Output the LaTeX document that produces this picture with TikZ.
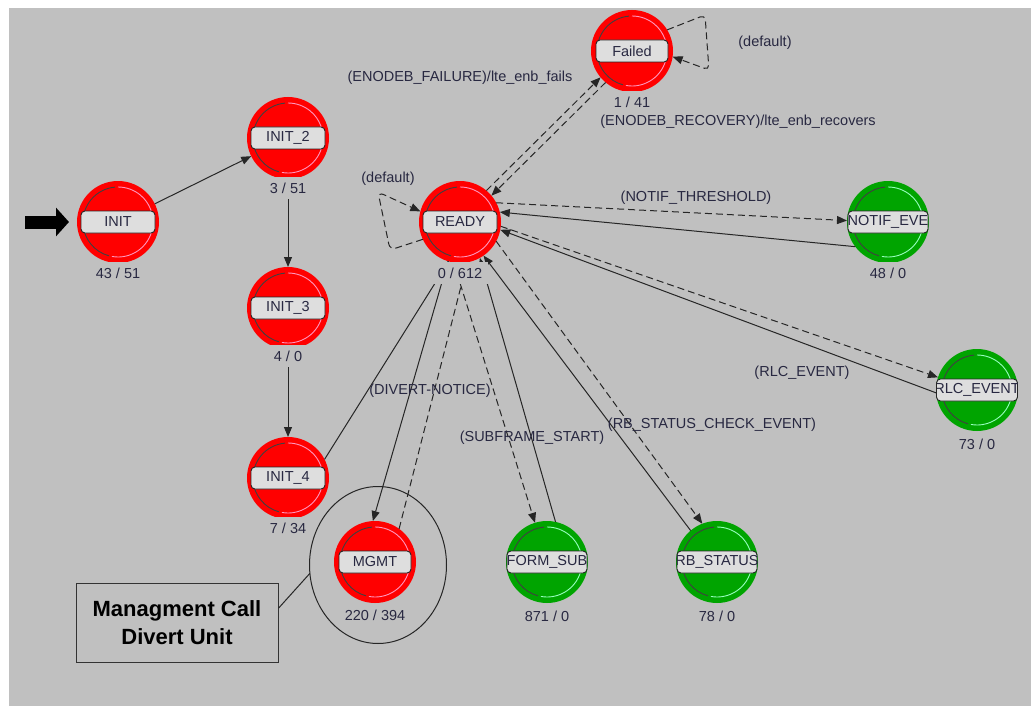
\documentclass[tikz,border=0pt]{standalone}
\usepackage{fontspec}
\setmainfont{Liberation Sans}
\usetikzlibrary{arrows.meta,shapes.geometric}

\definecolor{canvas}{RGB}{192,192,192}
\definecolor{stred}{RGB}{255,0,0}
\definecolor{stgreen}{RGB}{0,164,0}
\definecolor{redlight}{RGB}{255,150,190}
\definecolor{greenlight}{RGB}{150,255,190}
\definecolor{boxgray}{RGB}{222,222,222}
\definecolor{ink}{RGB}{40,40,65}

% thin rim inside a state circle: dark on the left, light on the right
\newcommand\rimlines[2]{%
  \draw[black!75, line width=0.9pt] ([shift={(95:35pt)}]#1.center)
    arc[start angle=95, end angle=255, radius=35pt];
  \draw[#2, line width=0.9pt] ([shift={(-100:35pt)}]#1.center)
    arc[start angle=-100, end angle=90, radius=35pt];
}
% rounded name box of a state, its text clipped to the box
\newcommand\statename[4]{%
  \node[namebox, minimum width=#3] (#1) at (#2) {};
  \begin{scope}
    \clip[rounded corners=4pt] (#1.south west) rectangle (#1.north east);
    \node[inner sep=0pt] at (#1.center) {#4};
  \end{scope}
}

\begin{document}
\begin{tikzpicture}[x=1pt, y=1pt,
  every node/.style={font=\fontsize{14.5}{16}\selectfont, text=ink},
  stnode/.style={circle, minimum size=82pt, inner sep=0pt, outer sep=0pt, fill=#1},
  namebox/.style={draw=black!85, line width=0.9pt, fill=boxgray, rounded corners=4pt,
    minimum height=22pt, inner sep=0pt, outer sep=0pt},
  cntlabel/.style={fill=canvas, inner xsep=6pt, inner ysep=0pt, minimum height=22pt},
  plainline/.style={draw=black!85, line width=1pt},
  trans/.style={plainline, -{Triangle[length=10pt, width=8pt]}},
  transd/.style={trans, dash pattern=on 7pt off 4pt},
  plaind/.style={plainline, dash pattern=on 7pt off 4pt},
]
\useasboundingbox (0,0) rectangle (1031,-706);
\fill[white] (0,0) rectangle (1031,-706);
\fill[canvas] (9,-8) rectangle (1031,-706);

% states
\node[stnode=stred]   (init)   at (118,-222) {};
\node[stnode=stred]   (init2)  at (288,-138) {};
\node[stnode=stred]   (init3)  at (288,-308) {};
\node[stnode=stred]   (init4)  at (288,-478) {};
\node[stnode=stred]   (ready)  at (460,-222) {};
\node[stnode=stred]   (failed) at (632,-51) {};
\node[stnode=stred]   (mgmt)   at (375,-562) {};
\node[stnode=stgreen] (notif)  at (888,-222) {};
\node[stnode=stgreen] (rlc)    at (977,-390) {};
\node[stnode=stgreen] (form)   at (547,-562) {};
\node[stnode=stgreen] (rb)     at (717,-562) {};

\rimlines{init}{redlight}
\rimlines{init2}{redlight}
\rimlines{init3}{redlight}
\rimlines{init4}{redlight}
\rimlines{ready}{redlight}
\rimlines{failed}{redlight}
\rimlines{mgmt}{redlight}
\rimlines{notif}{greenlight}
\rimlines{rlc}{greenlight}
\rimlines{form}{greenlight}
\rimlines{rb}{greenlight}

\statename{initname}{init}{74pt}{INIT}
\statename{init2name}{init2}{74pt}{INIT\_2}
\statename{init3name}{init3}{74pt}{INIT\_3}
\statename{init4name}{init4}{74pt}{INIT\_4}
\statename{readyname}{ready}{74pt}{READY}
\statename{failedname}{failed}{72pt}{Failed}
\statename{mgmtname}{mgmt}{72pt}{MGMT}
\statename{notifname}{notif}{80pt}{NOTIF\_EVE}
\statename{rlcname}{rlc}{81pt}{RLC\_EVENT}
\statename{formname}{form}{80pt}{FORM\_SUB}
\statename{rbname}{rb}{80pt}{RB\_STATUS}

% management unit grouping and its note
\node[ellipse, draw=black!85, line width=1pt, inner sep=0pt, outer sep=0pt,
  minimum width=137pt, minimum height=157pt] (mgmtgroup) at (378,-565) {};
\node[draw=black!80, line width=1pt, minimum width=202pt, minimum height=79pt,
  align=center, text=black, font=\fontsize{22}{28}\selectfont\bfseries]
  (note) at (177,-622.5) {Managment Call\\Divert Unit};
\draw[plainline] (note.8) -- (mgmtgroup.187);

% entry arrow
\coordinate (entry) at (25,-222);
\draw[line width=13pt, -{Triangle[length=13pt, width=28pt]}] (entry) -- ([xshift=-8pt]init.west);

% transitions
\draw[trans] (init) -- (init2);
\draw[trans] (init2) -- (init3);
\draw[trans] (init3) -- (init4);
\draw[plainline] (init4.27) -- (ready.254);
\draw[trans] (ready.253) -- (mgmt.93);
\draw[plaind] (mgmt.54) -- (ready.280);
\draw[transd] (ready.261) -- (form.107);
\draw[trans] (form.78) -- (ready.299);
\draw[trans] (rb.130) -- (ready.305);
\draw[transd] (ready.332) -- (rb.111);
\draw[transd] (ready.354) -- (rlc.162);
\draw[trans] (rlc.184) -- (ready.349);
\draw[transd] (ready.28) -- (notif.178);
\draw[trans] (notif.217) -- (ready.14);
\draw[transd] (ready.50) -- (failed.220);
\draw[transd] (failed.230) -- (ready.40);
\draw[transd, rounded corners=6pt] (ready.205) -- (390,-250) -- (378,-192) -- (ready.165);
\draw[transd, rounded corners=5pt] (failed.31) -- (705,-15) -- (709,-70) -- (failed.-8);

% execution counts
\node[cntlabel] (initcnt)   at (118,-273) {43 / 51};
\node[cntlabel] (init2cnt)  at (288,-188) {3 / 51};
\node[cntlabel] (init3cnt)  at (288,-356) {4 / 0};
\node[cntlabel] (init4cnt)  at (288,-528) {7 / 34};
\node[cntlabel] (readycnt)  at (460,-273) {0 / 612};
\node[cntlabel] (failedcnt) at (632,-102) {1 / 41};
\node[cntlabel] (notifcnt)  at (888,-273) {48 / 0};
\node[cntlabel] (rlccnt)    at (977,-444) {73 / 0};
\node[cntlabel] (mgmtcnt)   at (375,-615) {220 / 394};
\node[cntlabel] (formcnt)   at (547,-616) {871 / 0};
\node[cntlabel] (rbcnt)     at (717,-616) {78 / 0};

% transition conditions
\node (lfail)  at (460,-78)  {(ENODEB\_FAILURE)/lte\_enb\_fails};
\node (lrec)   at (738,-122) {(ENODEB\_RECOVERY)/lte\_enb\_recovers};
\node (ldeff)  at (765,-43)  {(default)};
\node (ldefr)  at (388,-179) {(default)};
\node (lnotif) at (696,-198) {(NOTIF\_THRESHOLD)};
\node (lrlc)   at (802,-373) {(RLC\_EVENT)};
\node (ldiv)   at (430,-391) {(DIVERT-NOTICE)};
\node (lsub)   at (532,-438) {(SUBFRAME\_START)};
\node (lrbs)   at (712,-425) {(RB\_STATUS\_CHECK\_EVENT)};
\end{tikzpicture}
\end{document}
